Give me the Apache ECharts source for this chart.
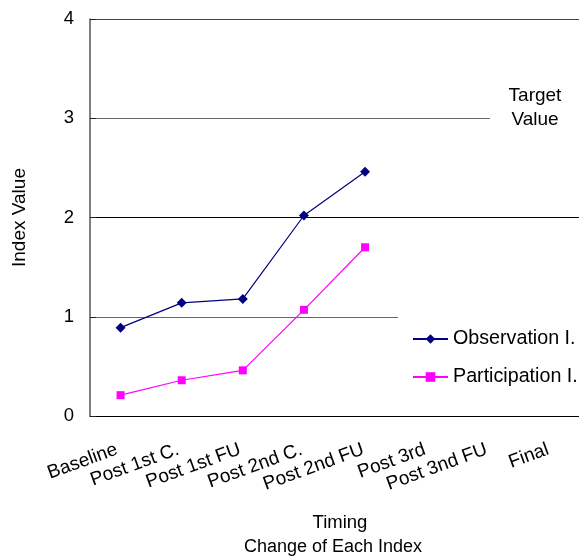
<!DOCTYPE html>
<html>
<head>
<meta charset="utf-8">
<script src="https://cdn.jsdelivr.net/npm/echarts@6/dist/echarts.min.js"></script>
<style>
  html, body { margin: 0; padding: 0; background: #fff; }
  #chart { width: 579px; height: 558px; }
</style>
</head>
<body>
<div id="chart"></div>
<script>
var categories = ["Baseline", "Post 1st C.", "Post 1st FU", "Post 2nd C.", "Post 2nd FU", "Post 3rd", "Post 3nd FU", "Final"];
var observation = [0.89, 1.14, 1.18, 2.02, 2.46, null, null, null];
var participation = [0.21, 0.36, 0.46, 1.07, 1.70, null, null, null];
var names = ["Observation I.", "Participation I."];
var colors = ["#000080", "#ff00ff"];

var FONT = "Liberation Sans, Arial, sans-serif";

var chart = echarts.init(document.getElementById("chart"), null, { renderer: "canvas" });

function getOption() {
  return {
    animation: false,
    backgroundColor: "#fff",
    textStyle: { fontFamily: FONT, color: "#000" },
    grid: [
      // plot area
      { left: 90, top: 19, width: 496, height: 397 },
      // carries the category labels only, nudged a few px left like Excel does
      { left: 86, top: 19, width: 496, height: 397 }
    ],
    legend: {
      orient: "vertical",
      left: 398,
      top: 315,
      padding: [14, 40, 14, 14],
      backgroundColor: "#fff",
      itemWidth: 35,
      itemHeight: 12,
      itemGap: 18,
      data: names,
      textStyle: { fontFamily: FONT, fontSize: 19.7, color: "#000" }
    },
    xAxis: [
      {
        type: "category",
        gridIndex: 0,
        data: categories,
        boundaryGap: true,
        axisLine: { lineStyle: { color: "#000", width: 1 } },
        axisTick: { show: false },
        axisLabel: { show: false }
      },
      {
        type: "category",
        gridIndex: 1,
        data: categories,
        boundaryGap: true,
        axisLine: { show: false },
        axisTick: { show: false },
        splitLine: { show: false },
        axisLabel: {
          interval: 0,
          rotate: 20,
          margin: 33,
          fontFamily: FONT,
          fontSize: 19,
          color: "#000"
        }
      }
    ],
    yAxis: [
      {
        type: "value",
        gridIndex: 0,
        min: 0,
        max: 4,
        interval: 1,
        name: "Index Value",
        nameLocation: "middle",
        nameGap: 61,
        nameTextStyle: { fontFamily: FONT, fontSize: 19, color: "#000" },
        axisLine: { show: true, lineStyle: { color: "#555", width: 1.5 } },
        axisTick: { show: true, inside: true, length: 6, lineStyle: { color: "#222" } },
        axisLabel: { margin: 16, fontFamily: FONT, fontSize: 18.5, color: "#000" },
        splitLine: {
          show: true,
          lineStyle: { color: ["#000", "#666", "#000", "#666", "#444"], width: 1.2 }
        }
      },
      { type: "value", gridIndex: 1, show: false, min: 0, max: 4 }
    ],
    graphic: [
      // white patch behind the "Target Value" note, hides the end of the 3 line
      {
        type: "rect",
        shape: { x: 490, y: 80, width: 100, height: 55 },
        style: { fill: "#fff" },
        z: 10
      },
      {
        type: "text",
        x: 535,
        y: 108,
        z: 11,
        style: {
          text: "Target\nValue",
          font: "19px " + FONT,
          fill: "#000",
          align: "center",
          verticalAlign: "middle",
          lineHeight: 24
        }
      },
      {
        type: "text",
        x: 340,
        y: 523,
        style: { text: "Timing", font: "18.5px " + FONT, fill: "#000", align: "center", verticalAlign: "middle" }
      },
      {
        type: "text",
        x: 333,
        y: 547,
        style: { text: "Change of Each Index", font: "18px " + FONT, fill: "#000", align: "center", verticalAlign: "middle" }
      }
    ],
    series: [
      {
        name: names[0],
        type: "line",
        xAxisIndex: 0,
        yAxisIndex: 0,
        data: observation,
        symbol: "diamond",
        symbolSize: 10,
        lineStyle: { color: colors[0], width: 1.2 },
        itemStyle: { color: colors[0] }
      },
      {
        name: names[1],
        type: "line",
        xAxisIndex: 0,
        yAxisIndex: 0,
        data: participation,
        symbol: "rect",
        symbolSize: 8,
        lineStyle: { color: colors[1], width: 1.2 },
        itemStyle: { color: colors[1] }
      }
    ]
  };
}

chart.setOption(getOption());
</script>
</body>
</html>
